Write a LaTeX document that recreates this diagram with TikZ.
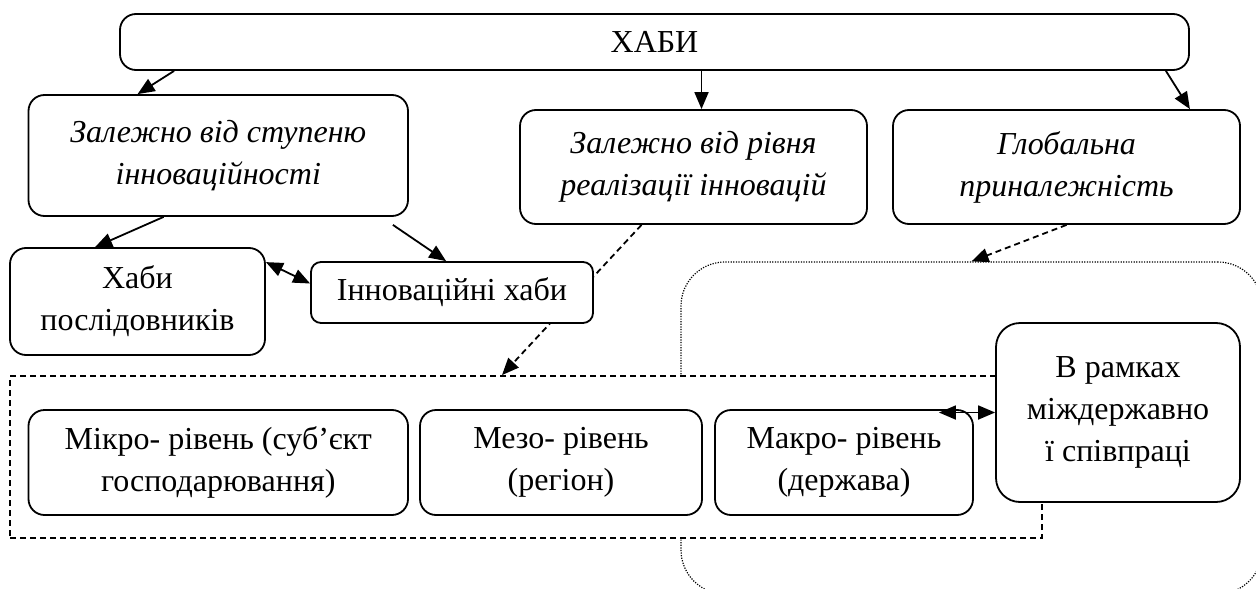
\documentclass[tikz,border=0pt]{standalone}
\usepackage{fontspec}
\setmainfont{Liberation Serif}
\usetikzlibrary{arrows.meta}

\begin{document}
\begin{tikzpicture}[x=0.5pt, y=-0.5pt, font=\fontsize{16}{21}\selectfont,
    box/.style={draw, line width=0.9pt, rounded corners=8pt, fill=white, align=center, inner sep=0pt},
    arr/.style={line width=0.9pt, -{Triangle[length=8.5pt, width=7pt]}},
    dblarr/.style={line width=0.9pt, {Triangle[length=8.5pt, width=7pt]}-{Triangle[length=8.5pt, width=7pt]}},
    dasharr/.style={arr, dash pattern=on 3pt off 2pt}]
    \useasboundingbox (0,0) rectangle (1256,588);
    \clip (0,0) rectangle (1256,588);
    % dotted area of the global level
    \node[draw, line width=0.6pt, dash pattern=on 0.6pt off 0.7pt, rounded corners=22pt, minimum width=290.5pt, minimum height=166pt] (global) at (971.5,428) {};
    \node[box, minimum width=534.5pt, minimum height=28pt] (hub) at (654.5,42) {ХАБИ};
    \node[box, minimum width=189.75pt, minimum height=60.5pt, font=\fontsize{16}{21}\selectfont\itshape] (degree) at (218.25,155.5) {Залежно від ступеню\\інноваційності};
    \node[box, minimum width=173.5pt, minimum height=57pt, font=\fontsize{16}{21}\selectfont\itshape] (realis) at (693.5,167) {Залежно від рівня\\реалізації інновацій};
    \node[box, minimum width=173.5pt, minimum height=57pt, font=\fontsize{16}{21}\selectfont\itshape] (globbel) at (1066.5,167) {Глобальна\\приналежність};
    % dashed frame of the levels
    \node[draw, fill=white, line width=0.9pt, dash pattern=on 3pt off 2pt, minimum width=516pt, minimum height=81pt] (levels) at (526,457) {};
    \draw[dasharr] ([xshift=-26pt]realis.south) -- ([xshift=-12pt]levels.north);
    \node[box, minimum width=127.5pt, minimum height=53.5pt] (follow) at (137.5,301.5) {Хаби\\послідовників};
    \node[box, rounded corners=5pt, minimum width=141pt, minimum height=30.5pt] (innov) at (452,292.5) {Інноваційні хаби};
    \node[box, minimum width=189.75pt, minimum height=52.5pt] (micro) at (218.25,462.5) {Мікро- рівень (суб’єкт\\господарювання)};
    \node[box, minimum width=141pt, minimum height=52.5pt] (meso) at (561,462.5) {Мезо- рівень\\(регіон)};
    \node[box, minimum width=129pt, minimum height=52.5pt] (macro) at (844,462.5) {Макро- рівень\\(держава)};
    \node[box, rounded corners=12pt, minimum width=122pt, minimum height=89.5pt] (inter) at (1118,412.5) {В рамках\\міждержавно\\ї співпраці};
    % arrows
    \draw[arr] ([xshift=27.5pt]hub.south west) -- ([xshift=55pt]degree.north west);
    \draw[arr] ([xshift=4pt]realis.north |- hub.south) -- ([xshift=4pt]realis.north);
    \draw[arr] ([xshift=-12pt]hub.south east) -- ([xshift=-25.5pt]globbel.north east);
    \draw[arr] ([xshift=68pt]degree.south west) -- ([xshift=43pt]follow.north west);
    \draw[arr] ([xshift=-8pt, yshift=-4pt]degree.south east) -- ([xshift=68pt]innov.north west);
    \draw[dblarr] ([yshift=-7.5pt]follow.north east) -- ([yshift=4.5pt]innov.west);
    \draw[dasharr] (globbel.south) -- (global.north);
    \draw[dblarr] ([xshift=-17.5pt]macro.north east |- inter.west) -- (inter.west);
\end{tikzpicture}
\end{document}
